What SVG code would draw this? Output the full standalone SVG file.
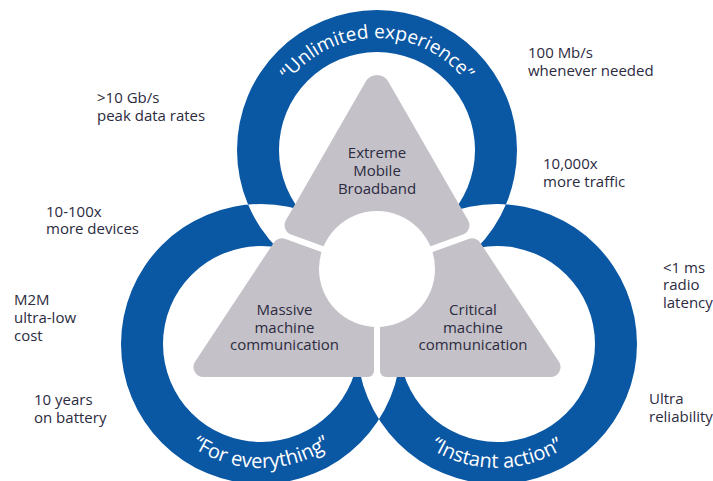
<svg xmlns="http://www.w3.org/2000/svg" width="713" height="481" viewBox="0 0 713 481">
<style>
.ring{fill:#0a57a4;fill-rule:evenodd}
.piece{fill:#c4c1c8}
.lbl{font-family:"Open Sans","Noto Sans","Liberation Sans",sans-serif;font-size:15px;fill:#2c2b40}
.mid{text-anchor:middle}
.arc{font-family:"Open Sans","Noto Sans","Liberation Sans",sans-serif;font-size:20px;fill:#ffffff;text-anchor:middle}
</style>
<defs>
<path id="arcTop" d="M265,150 A112,112 0 0 1 489,150"/>
<path id="arcLeft" d="M137,344 A124,124 0 0 0 385,344"/>
<path id="arcRight" d="M373,344 A124,124 0 0 0 621,344"/>
</defs>
<rect width="713" height="481" fill="#ffffff"/>
<g id="rings">
<path class="ring" d="M237,150 a140,140 0 1,0 280,0 a140,140 0 1,0 -280,0 Z M279,150 a98,98 0 1,0 196,0 a98,98 0 1,0 -196,0 Z M121,344 a140,140 0 1,0 280,0 a140,140 0 1,0 -280,0 Z M163,344 a98,98 0 1,0 196,0 a98,98 0 1,0 -196,0 Z M357,344 a140,140 0 1,0 280,0 a140,140 0 1,0 -280,0 Z M399,344 a98,98 0 1,0 196,0 a98,98 0 1,0 -196,0 Z"/>
<text class="arc" style="font-size:19px"><textPath href="#arcTop" startOffset="50%">“Unlimited experience”</textPath></text>
<text class="arc"><textPath href="#arcLeft" startOffset="50%">“For everything”</textPath></text>
<text class="arc"><textPath href="#arcRight" startOffset="50%">“Instant action”</textPath></text>
</g>
<g id="embb">
<path class="piece" d="M365.76,81.52 A13,13 0 0 1 388.24,81.52 L468.09,220.18 A10,10 0 0 1 462.85,234.56 L377,265.8 L291.15,234.56 A10,10 0 0 1 285.91,220.18 Z"/>
<text class="lbl mid" x="377" y="157.5">Extreme<tspan x="377" dy="18">Mobile</tspan><tspan x="377" dy="18">Broadband</tspan></text>
</g>
<g id="mmc">
<path class="piece" d="M285.46,238.88 A10,10 0 0 0 273.70,242.75 L195.17,361.48 A10,10 0 0 0 203.51,377 L368,377 A6,6 0 0 0 374,371 L374,271.1 Z"/>
<text class="lbl mid" x="284.5" y="315">Massive<tspan x="284.5" dy="17.5">machine</tspan><tspan x="284.5" dy="17.5">communication</tspan></text>
</g>
<g id="cmc">
<path class="piece" d="M468.54,238.88 A10,10 0 0 1 480.30,242.75 L558.83,361.48 A10,10 0 0 1 550.49,377 L386,377 A6,6 0 0 1 380,371 L380,271.1 Z"/>
<text class="lbl mid" x="473" y="315">Critical<tspan x="473" dy="17.5">machine</tspan><tspan x="473" dy="17.5">communication</tspan></text>
</g>
<g id="hub">
<circle cx="377" cy="269" r="58" fill="#ffffff"/>
</g>
<g id="side-labels">
<text class="lbl" x="97" y="103">&gt;10 Gb/s<tspan x="97" dy="17.5">peak data rates</tspan></text>
<text class="lbl" x="46" y="216.5">10-100x<tspan x="46" dy="17.5">more devices</tspan></text>
<text class="lbl" x="14" y="305">M2M<tspan x="14" dy="18">ultra-low</tspan><tspan x="14" dy="18">cost</tspan></text>
<text class="lbl" x="34" y="405">10 years<tspan x="34" dy="17.5">on battery</tspan></text>
<text class="lbl" x="528" y="57.5">100 Mb/s<tspan x="528" dy="18">whenever needed</tspan></text>
<text class="lbl" x="543" y="169">10,000x<tspan x="543" dy="17.5">more traffic</tspan></text>
<text class="lbl" x="663" y="272.5">&lt;1 ms<tspan x="663" dy="17.5">radio</tspan><tspan x="663" dy="17.5">latency</tspan></text>
<text class="lbl" x="649" y="404">Ultra<tspan x="649" dy="17.5">reliability</tspan></text>
</g>
</svg>
